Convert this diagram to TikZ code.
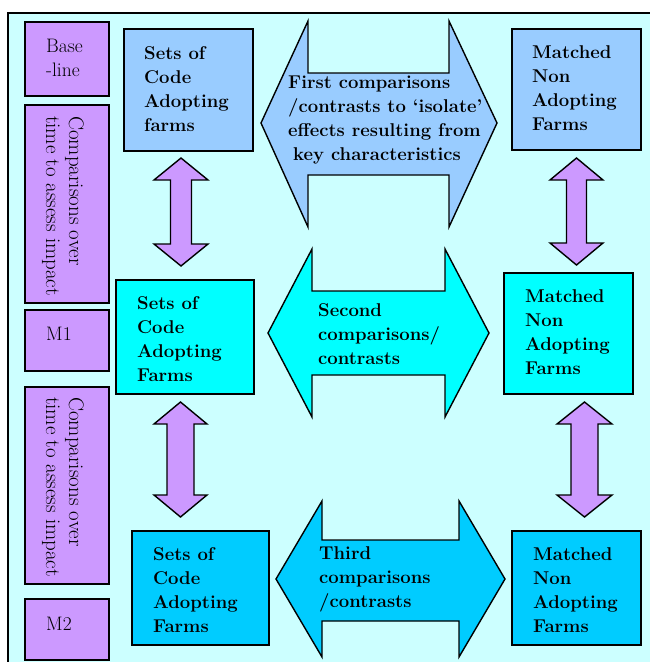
\documentclass[tikz,border=0pt]{standalone}
\usepackage{fontspec}
\usetikzlibrary{calc}
\definecolor{bgc}{HTML}{CCFFFF}
\definecolor{purp}{HTML}{CC99FF}
\definecolor{lblue}{HTML}{99CCFF}
\definecolor{cyanc}{HTML}{00FFFF}
\definecolor{deepc}{HTML}{00CCFF}
\tikzset{
  boxshape/.style={draw=black, line width=1.4pt, inner sep=0pt, outer sep=0pt},
  arrowshape/.style={draw=black, line width=1.4pt, line join=miter},
  boldtxt/.style={anchor=north west, align=left, inner sep=0pt, yshift=12.8pt, font=\bfseries\fontsize{18.5}{24}\selectfont},
  regtxt/.style={anchor=north west, align=left, inner sep=0pt, yshift=13.5pt, font=\fontsize{19.5}{24}\selectfont},
  rottxt/.style={anchor=west, rotate=-90, align=left, inner sep=0pt, font=\fontsize{21}{23}\selectfont},
}
\newcommand{\mkbox}[6]{% name, x1, y1, x2, y2, color
  \node[boxshape, fill=#6, minimum width={(#4-#2)*1pt}, minimum height={(#5-#3)*1pt}, anchor=north west] (#1) at (#2,#3) {};}
\newcommand{\vdarrow}[6]{% cx, ytop, ybot, halfhead, halfshaft, headlen
  \draw[arrowshape, fill=purp] (#1,#2) -- ({#1+#4},{#2+#6}) -- ({#1+#5},{#2+#6}) -- ({#1+#5},{#3-#6}) -- ({#1+#4},{#3-#6}) -- (#1,#3) -- ({#1-#4},{#3-#6}) -- ({#1-#5},{#3-#6}) -- ({#1-#5},{#2+#6}) -- ({#1-#4},{#2+#6}) -- cycle;}
\begin{document}
\begin{tikzpicture}[x=1pt, y=-1pt]
\useasboundingbox (0,0) rectangle (650,662);
% frame
\fill[white] (0,0) rectangle (650,662);
\draw[fill=bgc, line width=2pt] (8,13) rectangle (654,666);
% left purple boxes
\mkbox{base}{25}{22}{109}{96}{purp}
\mkbox{comp1}{25}{105}{109}{303}{purp}
\mkbox{m1}{25}{310}{109}{371}{purp}
\mkbox{comp2}{25}{387}{109}{584}{purp}
\mkbox{m2}{25}{599}{109}{660}{purp}
\node[regtxt] (basetxt) at (46,52) {Base\\-line};
\node[regtxt] (m1txt) at (46,340) {M1};
\node[regtxt] (m2txt) at (46,630) {M2};
\node[rottxt] (c1txt) at (63,116) {Comparisons over\\time to assess impact};
\node[rottxt] (c2txt) at (63,397) {Comparisons over\\time to assess impact};
% boxes
\mkbox{b1}{124}{29}{253}{151}{lblue}
\mkbox{r1}{512}{29}{641}{150}{lblue}
\mkbox{b2}{116}{280}{254}{394}{cyanc}
\mkbox{r2}{504}{273}{633}{394}{cyanc}
\mkbox{b3}{132}{531}{269}{645}{deepc}
\mkbox{r3}{512}{531}{641}{645}{deepc}
\node[boldtxt] (b1txt) at (144,59) {Sets of\\Code\\Adopting\\farms};
\node[boldtxt] (r1txt) at (532,58) {Matched\\Non\\Adopting\\Farms};
\node[boldtxt] (b2txt) at (137,309) {Sets of\\Code\\Adopting\\Farms};
\node[boldtxt] (r2txt) at (525,302) {Matched\\Non\\Adopting\\Farms};
\node[boldtxt] (b3txt) at (153,560) {Sets of\\Code\\Adopting\\Farms};
\node[boldtxt] (r3txt) at (533,560) {Matched\\Non\\Adopting\\Farms};
% big horizontal double arrows
\draw[arrowshape, fill=lblue] (261,123) -- (308,21) -- (308,73) -- (449,73) -- (449,21) -- (497,123) -- (449,227) -- (449,175) -- (308,175) -- (308,227) -- cycle;
\draw[arrowshape, fill=cyanc] (268,333) -- (312,249) -- (312,291) -- (445,291) -- (445,249) -- (489,333) -- (445,417) -- (445,375) -- (312,375) -- (312,417) -- cycle;
\draw[arrowshape, fill=deepc] (276,579) -- (322,501) -- (322,540) -- (459,540) -- (459,501) -- (505,579) -- (459,657) -- (459,621) -- (322,621) -- (322,657) -- cycle;
\node[boldtxt] (a1txt) at (288,88) {First comparisons\\/contrasts to `isolate'\\effects resulting from\\\hspace{5pt}key characteristics};
\node[boldtxt] (a2txt) at (318,316) {Second\\comparisons/\\contrasts};
\node[boldtxt] (a3txt) at (319,559) {Third\\comparisons\\/contrasts};
% vertical double arrows
\vdarrow{181}{158}{266}{27}{10.5}{22}
\vdarrow{576.5}{158}{265}{26.5}{10}{22}
\vdarrow{180.5}{402}{517}{26.5}{13.5}{22}
\vdarrow{584.5}{402}{517}{27.5}{13.5}{22}
\end{tikzpicture}
\end{document}
